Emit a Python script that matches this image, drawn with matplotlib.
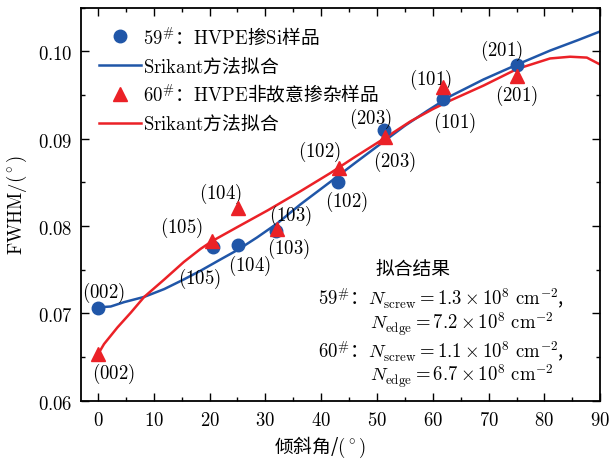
import matplotlib
matplotlib.use("Agg")
import matplotlib.pyplot as plt
from matplotlib.lines import Line2D
from matplotlib.ticker import MultipleLocator, FuncFormatter

plt.rcParams["font.family"] = ["Noto Sans CJK SC", "DejaVu Sans"]
plt.rcParams["mathtext.fontset"] = "cm"
plt.rcParams["axes.unicode_minus"] = False

# ── Data ─────────────────────────────────────────────────────────────
planes = ["(002)", "(105)", "(104)", "(103)", "(102)", "(203)", "(101)", "(201)"]

s59_x = [0, 20.7, 25.1, 32.0, 43.1, 51.3, 61.8, 75.0]
s59_y = [0.0706, 0.0776, 0.0778, 0.0795, 0.0851, 0.0910, 0.0946, 0.0984]

s60_x = [0, 20.5, 25.1, 32.1, 43.2, 51.4, 61.8, 75.0]
s60_y = [0.0654, 0.0783, 0.0821, 0.0797, 0.0867, 0.0902, 0.0959, 0.0972]

fit59_x = [0, 2.3, 4.7, 8.3, 11.9, 15.4, 18.4, 22.0, 25.1, 28.5, 32.1, 36.3,
           41.7, 46.0, 50.6, 55.0, 59.0, 63.2, 69.1, 75.1, 81.0, 86.0, 90.0]
fit59_y = [0.0707, 0.0708, 0.0713, 0.0719, 0.0728, 0.0739, 0.0749, 0.0762,
           0.0773, 0.0787, 0.0803, 0.0825, 0.0851, 0.0872, 0.0894, 0.0915,
           0.0932, 0.0949, 0.0968, 0.0985, 0.1001, 0.1013, 0.1023]

fit60_x = [0, 1.1, 3.5, 5.9, 8.3, 11.9, 15.4, 18.4, 20.5, 25.0, 30.4, 36.3,
           41.7, 46.0, 51.2, 56.0, 60.0, 63.2, 69.1, 75.1, 81.0, 84.6, 87.6, 90.0]
fit60_y = [0.0653, 0.0665, 0.0684, 0.0701, 0.0719, 0.0739, 0.0759, 0.0774,
           0.0783, 0.0799, 0.0818, 0.0840, 0.0861, 0.0879, 0.0900, 0.0920,
           0.0934, 0.0944, 0.0961, 0.0980, 0.0992, 0.0994, 0.0993, 0.0985]

# label offsets (points) for each plane label
off59 = [(4, 12), (-10, -22), (8, -14), (10, 11), (6, -14), (-10, 9), (8, -17), (-11, 11)]
off60 = [(11, -14), (-22, 10), (-13, 11), (8, -14), (-14, 12), (7, -17), (-9, 6), (0, -14)]

BLUE = "#2056a8"
RED = "#eb2127"

fig = plt.figure(figsize=(6.1, 4.64), dpi=100)
ax = fig.add_axes([0.133, 0.134, 0.851, 0.847])

ax.plot(fit59_x, fit59_y, color=BLUE, lw=1.8, zorder=2)
ax.plot(fit60_x, fit60_y, color=RED, lw=1.8, zorder=2)
ax.plot(s59_x, s59_y, "o", color=BLUE, ms=9, ls="none", zorder=3)
ax.plot(s60_x, s60_y, "^", color=RED, ms=10, ls="none", zorder=4)

for lb, x, y, o in zip(planes, s59_x, s59_y, off59):
    ax.annotate(f"${lb}$", xy=(x, y), xytext=o, textcoords="offset points",
                ha="center", va="center", fontsize=13.5)
for lb, x, y, o in zip(planes, s60_x, s60_y, off60):
    ax.annotate(f"${lb}$", xy=(x, y), xytext=o, textcoords="offset points",
                ha="center", va="center", fontsize=13.5)

handles = [
    Line2D([], [], marker="o", color=BLUE, ls="none", ms=9),
    Line2D([], [], color=BLUE, lw=1.8),
    Line2D([], [], marker="^", color=RED, ls="none", ms=10),
    Line2D([], [], color=RED, lw=1.8),
]
labels = [r"$\mathrm{59}^{\#}$：$\mathrm{HVPE}$掺$\mathrm{Si}$样品",
          r"$\mathrm{Srikant}$方法拟合",
          r"$\mathrm{60}^{\#}$：$\mathrm{HVPE}$非故意掺杂样品",
          r"$\mathrm{Srikant}$方法拟合"]
ax.legend(handles, labels, loc="upper left", frameon=False, fontsize=13.5,
          handlelength=2.2, handletextpad=0.1, labelspacing=0.38,
          borderaxespad=0.3, bbox_to_anchor=(0.01, 0.985))

# fit results
ax.text(0.640, 0.336, "拟合结果", transform=ax.transAxes, ha="center", va="center", fontsize=13.5)
ax.text(0.457, 0.262, r"$\mathrm{59}^{\#}$：$N_{\rm screw}=1.3\times10^{8}\ {\rm cm}^{-2}$,",
        transform=ax.transAxes, ha="left", va="center", fontsize=13.5)
ax.text(0.557, 0.198, r"$N_{\rm edge}=7.2\times10^{8}\ {\rm cm}^{-2}$",
        transform=ax.transAxes, ha="left", va="center", fontsize=13.5)
ax.text(0.457, 0.128, r"$\mathrm{60}^{\#}$：$N_{\rm screw}=1.1\times10^{8}\ {\rm cm}^{-2}$,",
        transform=ax.transAxes, ha="left", va="center", fontsize=13.5)
ax.text(0.557, 0.064, r"$N_{\rm edge}=6.7\times10^{8}\ {\rm cm}^{-2}$",
        transform=ax.transAxes, ha="left", va="center", fontsize=13.5)

ax.set_xlim(-3, 90)
ax.set_ylim(0.06, 0.105)
ax.xaxis.set_major_locator(MultipleLocator(10))
ax.xaxis.set_minor_locator(MultipleLocator(5))
ax.yaxis.set_major_locator(MultipleLocator(0.01))
ax.yaxis.set_minor_locator(MultipleLocator(0.005))
ax.xaxis.set_major_formatter(FuncFormatter(lambda v, p: f"${v:.0f}$"))
ax.yaxis.set_major_formatter(FuncFormatter(lambda v, p: f"${v:.2f}$"))
ax.tick_params(which="both", direction="in", top=True, right=True, labelsize=13.5, width=1.0)
ax.tick_params(which="major", length=6, pad=6)
ax.tick_params(which="minor", length=3)
for sp in ax.spines.values():
    sp.set_linewidth(1.3)

ax.set_xlabel(r"倾斜角/$(^\circ)$", fontsize=13.5)
ax.set_ylabel(r"$\mathrm{FWHM}/(^\circ)$", fontsize=13.5, labelpad=6)
ax.xaxis.set_label_coords(0.459, -0.085)

fig.savefig("out.png", dpi=100)
